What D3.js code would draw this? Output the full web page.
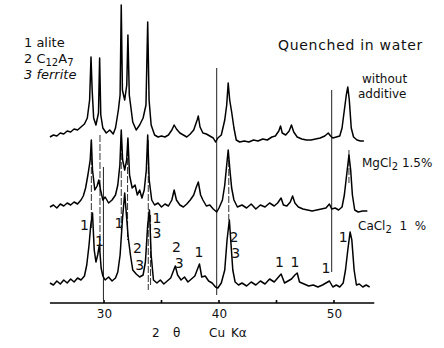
<!DOCTYPE html>
<html>
<head>
<meta charset="utf-8">
<script src="https://cdn.jsdelivr.net/npm/d3@7"></script>
<style>
  html, body { margin: 0; padding: 0; background: #fff; }
  svg { display: block; }
  text { font-family: "DejaVu Sans", "Liberation Sans", sans-serif; fill: #111; }
</style>
</head>
<body>
<div id="chart"></div>
<script>
// X-ray diffraction patterns (2θ, Cu Kα), three clinker samples quenched in water.
// Intensities are in arbitrary units, already stacked with each pattern's offset.

const seriesNames = ["without additive", "MgCl2 1.5%", "CaCl2 1 %"];

const withoutAdditive = [
  [25.3,166],[25.6,168],[25.9,167],[26.2,170],[26.5,169],[26.8,172],[27.1,171],[27.4,174],[27.7,173],
  [28.0,176],[28.3,179],[28.55,185],[28.75,203],[28.87,246],[28.97,213],[29.1,185],[29.3,178],[29.52,190],
  [29.62,245],[29.72,188],[29.9,175],[30.2,170],[30.5,173],[30.8,169],[31.0,175],[31.25,193],[31.4,208],
  [31.5,298],[31.6,213],[31.8,203],[31.98,218],[32.08,268],[32.2,208],[32.5,181],[32.8,173],[33.1,178],
  [33.4,185],[33.65,198],[33.8,281],[33.92,203],[34.1,178],[34.4,168],[34.7,166],[35.0,167],[35.3,166],
  [35.6,168],[35.9,173],[36.1,178],[36.3,174],[36.6,170],[36.9,168],[37.2,166],[37.5,169],[37.8,173],
  [38.1,183],[38.2,187],[38.35,176],[38.6,170],[38.9,169],[39.2,167],[39.5,165],[39.7,161],[39.9,165],
  [40.2,168],[40.5,183],[40.67,198],[40.8,220],[40.93,203],[41.1,191],[41.3,175],[41.5,163],[41.8,161],
  [42.2,162],[42.6,161],[43.0,163],[43.4,162],[43.8,164],[44.2,163],[44.6,166],[44.9,167],[45.2,172],
  [45.35,177],[45.5,170],[45.8,168],[46.1,172],[46.3,178],[46.5,171],[46.8,166],[47.2,164],[47.6,163],
  [48.0,163],[48.4,164],[48.8,165],[49.2,167],[49.5,170],[49.7,167],[49.9,165],[50.2,166],[50.5,167],
  [50.7,175],[50.9,193],[51.07,208],[51.2,216],[51.33,203],[51.5,175],[51.7,166],[52.0,163],[52.3,162],
  [52.6,162]
];

const mgcl2 = [
  [25.3,96],[25.6,98],[25.9,95],[26.2,99],[26.5,97],[26.8,100],[27.1,98],[27.4,101],[27.7,99],
  [28.0,103],[28.2,107],[28.4,115],[28.6,128],[28.8,143],[28.9,163],[29.0,133],[29.2,113],[29.4,117],
  [29.55,123],[29.7,113],[29.9,103],[30.1,106],[30.4,100],[30.7,103],[31.0,108],[31.2,118],[31.38,138],
  [31.5,173],[31.62,143],[31.8,133],[31.97,143],[32.08,165],[32.22,128],[32.45,115],[32.7,118],[32.9,108],
  [33.1,113],[33.3,105],[33.5,113],[33.68,133],[33.8,168],[33.93,123],[34.15,103],[34.4,98],[34.7,100],
  [35.0,96],[35.3,99],[35.6,97],[35.9,103],[36.1,113],[36.3,103],[36.6,98],[36.9,96],[37.2,99],
  [37.5,103],[37.8,108],[38.0,115],[38.2,121],[38.4,108],[38.6,103],[38.9,97],[39.2,98],[39.5,94],
  [39.8,91],[40.0,95],[40.3,103],[40.5,118],[40.67,138],[40.8,153],[40.95,133],[41.1,115],[41.3,103],
  [41.6,96],[42.0,98],[42.4,95],[42.8,99],[43.2,94],[43.6,98],[44.0,96],[44.4,100],[44.8,97],
  [45.1,100],[45.4,105],[45.6,98],[45.9,97],[46.2,101],[46.4,107],[46.6,100],[46.9,96],[47.3,94],
  [47.7,93],[48.1,92],[48.5,93],[48.9,94],[49.3,95],[49.6,99],[49.8,94],[50.1,95],[50.4,93],
  [50.7,96],[50.9,108],[51.1,128],[51.3,148],[51.45,133],[51.6,108],[51.8,93],[52.1,91],[52.5,92],
  [52.9,92]
];

const cacl2 = [
  [25.3,20],[25.6,18],[25.9,22],[26.2,19],[26.5,23],[26.8,20],[27.1,24],[27.4,21],[27.7,25],
  [28.0,23],[28.3,27],[28.5,38],[28.7,58],[28.85,78],[29.0,90],[29.15,53],[29.3,41],[29.45,48],
  [29.6,58],[29.75,35],[29.9,27],[30.1,23],[30.4,26],[30.7,22],[31.0,25],[31.2,31],[31.4,48],
  [31.6,83],[31.8,110],[31.95,88],[32.1,66],[32.3,48],[32.5,33],[32.8,29],[33.1,26],[33.4,28],
  [33.6,41],[33.8,78],[33.95,93],[34.1,48],[34.3,23],[34.6,20],[34.9,23],[35.2,19],[35.5,22],
  [35.8,25],[36.0,31],[36.2,37],[36.4,28],[36.7,23],[37.0,26],[37.3,21],[37.6,24],[37.9,27],
  [38.1,33],[38.3,39],[38.5,26],[38.8,27],[39.1,22],[39.4,20],[39.7,16],[39.9,15],[40.2,20],
  [40.5,33],[40.7,63],[40.9,83],[41.05,58],[41.2,33],[41.4,21],[41.7,18],[42.0,20],[42.4,17],
  [42.8,21],[43.2,18],[43.6,22],[44.0,19],[44.4,24],[44.8,21],[45.1,25],[45.4,29],[45.7,20],
  [46.0,22],[46.3,24],[46.6,28],[46.8,30],[47.0,21],[47.4,19],[47.8,17],[48.2,18],[48.6,16],
  [49.0,18],[49.3,20],[49.6,22],[49.9,16],[50.2,18],[50.5,16],[50.8,20],[51.0,33],[51.2,53],
  [51.4,71],[51.55,63],[51.75,33],[51.95,18],[52.2,19],[52.5,16],[52.8,18],[53.1,16]
];

// Reference lines drawn across the patterns: [2θ, from, to]
const solidGuides = [[29.95,136,3],[39.8,235,8],[49.8,213,31]];
const dashedGuides = [[28.9,163,73],[29.65,168,53],[31.5,168,73],[32.05,163,63],
                      [33.85,163,13],[34.05,88,18],[40.85,143,83],[51.3,153,120]];

// Phase indices marked on the CaCl2 pattern: [label, 2θ, level]
const phaseMarks = [
  ["1",28.3,73],["1",29.6,57],["1",31.3,75],["2",32.9,50],["3",33.1,33],
  ["1",34.6,80],["3",34.6,65],["2",36.3,51],["3",36.55,35],["1",38.25,46],
  ["2",41.3,61],["3",41.45,45],["1",45.25,36],["1",46.6,36],["1",49.3,30],["1",50.8,61]
];

const xTicks = [30, 40, 50];
const xMinorTicks = [35, 45];
const legendLines = ["1 alite", "2 C12A7", "3 ferrite"];

const W = 444, H = 348;
const svg = d3.select("#chart").append("svg").attr("width", W).attr("height", H);

const x = d3.scaleLinear().domain([30, 50]).range([104, 334]);
const y = d3.scaleLinear().domain([0, 300]).range([303, 3]);

const line = d3.line().x(d => x(d[0])).y(d => y(d[1]));

// guide lines
svg.append("g").selectAll("line").data(solidGuides).join("line")
  .attr("x1", d => x(d[0])).attr("x2", d => x(d[0]))
  .attr("y1", d => y(d[1])).attr("y2", d => y(d[2]))
  .attr("stroke", "#222").attr("stroke-width", 1);
svg.append("g").selectAll("line").data(dashedGuides).join("line")
  .attr("x1", d => x(d[0])).attr("x2", d => x(d[0]))
  .attr("y1", d => y(d[1])).attr("y2", d => y(d[2]))
  .attr("stroke", "#333").attr("stroke-width", 1).attr("stroke-dasharray", "7,2");

// patterns
svg.append("g").selectAll("path").data([withoutAdditive, mgcl2, cacl2]).join("path")
  .attr("d", line).attr("fill", "none").attr("stroke", "#000")
  .attr("stroke-width", 1.5).attr("stroke-linejoin", "round");

// bottom axis
const axis = d3.axisBottom(x).tickValues(xTicks).tickSize(0).tickPadding(6).tickFormat(d3.format("d"));
const gAxis = svg.append("g").attr("transform", `translate(0,${y(0)})`).call(axis);
gAxis.select(".domain").remove();
gAxis.append("line").attr("x1", x(25.3)).attr("x2", x(53.5)).attr("stroke", "#000").attr("stroke-width", 1.4);
gAxis.selectAll(".tick text").attr("font-size", 12).attr("fill", "#111")
  .attr("font-family", "DejaVu Sans, sans-serif");
gAxis.append("g").selectAll("line").data(xTicks.concat(xMinorTicks)).join("line")
  .attr("x1", d => x(d)).attr("x2", d => x(d)).attr("y1", 0).attr("y2", -3)
  .attr("stroke", "#000").attr("stroke-width", 1.6);

// axis title
const title = svg.append("text").attr("y", 337).attr("font-size", 12);
title.append("tspan").attr("x", 152).text("2");
title.append("tspan").attr("x", 173).text("θ");
title.append("tspan").attr("x", 209).text("Cu");
title.append("tspan").attr("x", 231).text("Kα");

// phase index labels
svg.append("g").selectAll("text").data(phaseMarks).join("text")
  .attr("x", d => x(d[1])).attr("y", d => y(d[2]))
  .attr("font-size", 14).attr("text-anchor", "middle").text(d => d[0]);

// legend of phases
const leg = svg.append("g").attr("font-size", 13);
leg.append("text").attr("x", 24).attr("y", 47).text(legendLines[0]);
const l2 = leg.append("text").attr("x", 24).attr("y", 63);
l2.append("tspan").text("2 C");
l2.append("tspan").attr("font-size", 10).attr("dy", 3).text("12");
l2.append("tspan").attr("dy", -3).text("A");
l2.append("tspan").attr("font-size", 10).attr("dy", 3).text("7");
leg.append("text").attr("x", 24).attr("y", 79).attr("font-style", "italic").text(legendLines[2]);

// sample captions
svg.append("text").attr("x", 278).attr("y", 50).attr("font-size", 14).attr("letter-spacing", 0.7)
  .text("Quenched in water");
svg.append("text").attr("x", 362).attr("y", 83).attr("font-size", 12).text("without");
svg.append("text").attr("x", 358).attr("y", 98).attr("font-size", 12).text("additive");

const cap2 = svg.append("text").attr("x", 362).attr("y", 167).attr("font-size", 12);
cap2.append("tspan").text("MgCl");
cap2.append("tspan").attr("font-size", 10).attr("dy", 3).text("2");
cap2.append("tspan").attr("dy", -3).text(" 1.5%");

const cap3 = svg.append("text").attr("x", 358).attr("y", 230).attr("font-size", 12);
cap3.append("tspan").text("CaCl");
cap3.append("tspan").attr("font-size", 10).attr("dy", 3).text("2");
cap3.append("tspan").attr("dy", -3).attr("xml:space", "preserve").text("  1  %");
</script>
</body>
</html>
